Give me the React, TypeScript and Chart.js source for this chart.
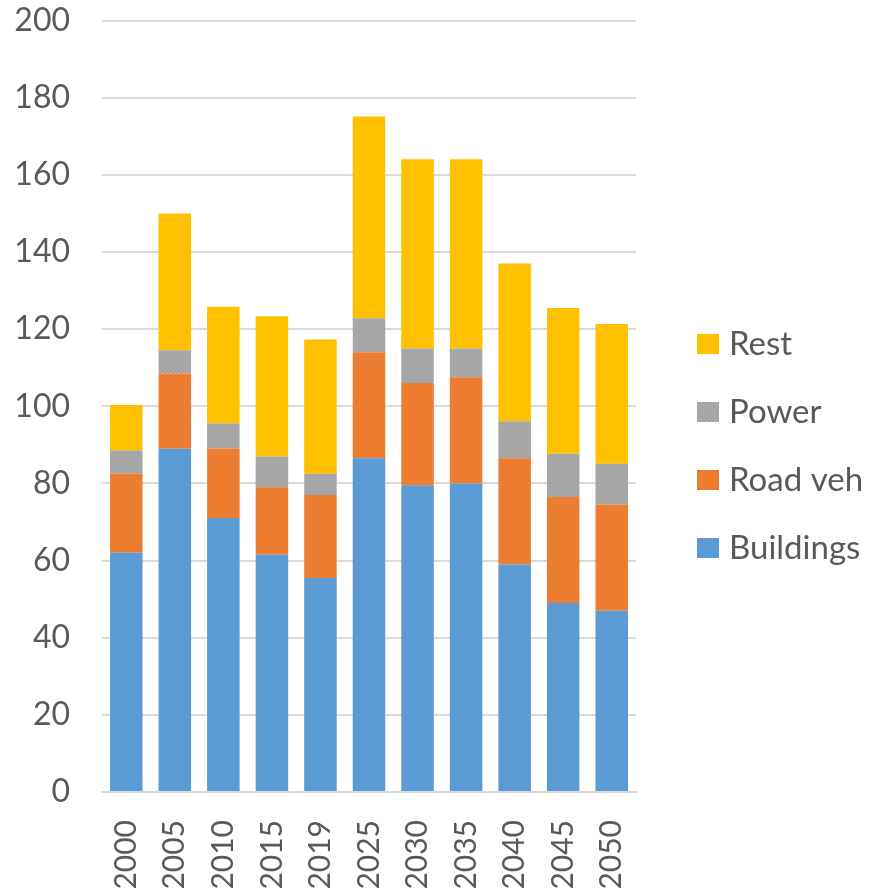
import React, { useEffect, useRef } from "react";
import { Chart, registerables } from "chart.js";

Chart.register(...registerables);

const categories = ["2000", "2005", "2010", "2015", "2019", "2025", "2030", "2035", "2040", "2045", "2050"];
const buildings = [62, 89, 71, 61.5, 55.5, 86.5, 79.5, 80, 59, 49, 47];
const roadVeh = [20.5, 19.5, 18, 17.5, 21.5, 27.5, 26.5, 27.5, 27.5, 27.5, 27.5];
const power = [6, 6, 6.5, 8, 5.5, 8.8, 9, 7.5, 9.6, 11.2, 10.6];
const rest = [11.8, 35.5, 30.3, 36.3, 34.8, 52.3, 49, 49, 40.9, 37.8, 36.2];
const seriesNames = ["Buildings", "Road veh", "Power", "Rest"];
const yTicks = { min: 0, max: 200, step: 20 };

const FONT = "Lato, 'Open Sans', sans-serif";
const TEXT = "#595959";

function makePowerPattern(): CanvasPattern | string {
  const c = document.createElement("canvas");
  c.width = 4;
  c.height = 4;
  const g = c.getContext("2d");
  if (!g) return "#a5a5a5";
  g.fillStyle = "#a7a7a7";
  g.fillRect(0, 0, 4, 4);
  g.fillStyle = "#979797";
  g.fillRect(0, 0, 1, 1);
  g.fillRect(2, 2, 1, 1);
  g.fillStyle = "#b3b3b3";
  g.fillRect(2, 0, 1, 1);
  g.fillRect(0, 2, 1, 1);
  const p = g.createPattern(c, "repeat");
  return p || "#a5a5a5";
}

export default function App() {
  const ref = useRef<HTMLCanvasElement>(null);
  useEffect(() => {
    document.body.style.margin = "0";
    const canvas = ref.current;
    if (!canvas) return;
    const powerFill = makePowerPattern();
    const colors = ["#5b9bd5", "#ed7d31", powerFill, "#ffc000"];
    const values = [buildings, roadVeh, power, rest];

    const legendPlugin = {
      id: "sideLegend",
      afterDraw(chart: any) {
        const ctx = chart.ctx as CanvasRenderingContext2D;
        const area = chart.chartArea;
        const x0 = area.right + 61;
        const spacing = 68;
        const cy = chart.height / 2 - 1.5;
        ctx.save();
        ctx.font = `33px ${FONT}`;
        ctx.textBaseline = "middle";
        ctx.textAlign = "left";
        for (let i = 0; i < 4; i++) {
          const idx = 3 - i;
          const y = cy + (i - 1.5) * spacing;
          ctx.fillStyle = colors[idx] as any;
          ctx.fillRect(x0, y - 9, 22, 20);
          ctx.fillStyle = TEXT;
          ctx.fillText(seriesNames[idx], x0 + 32, y + 1);
        }
        ctx.restore();
      },
    };

    const chart = new Chart(canvas, {
      type: "bar",
      data: {
        labels: categories,
        datasets: values.map((v, i) => ({
          label: seriesNames[i],
          data: v,
          backgroundColor: colors[i] as any,
          borderWidth: 0,
          barPercentage: 0.67,
          categoryPercentage: 1,
        })),
      },
      options: {
        animation: false,
        responsive: false,
        maintainAspectRatio: false,
        layout: { padding: { left: 14, right: 235, top: 0, bottom: 0 } },
        plugins: {
          legend: { display: false },
          tooltip: { enabled: false },
        },
        scales: {
          x: {
            stacked: true,
            grid: { display: false },
            border: { display: true, color: "#d9d9d9", width: 2 },
            ticks: {
              color: TEXT,
              font: { family: FONT, size: 30 },
              minRotation: 90,
              maxRotation: 90,
              padding: 20,
            },
            afterFit(scale: any) {
              scale.height = 101;
            },
          },
          y: {
            stacked: true,
            min: yTicks.min,
            max: yTicks.max,
            border: { display: false },
            grid: { color: "#d9d9d9", lineWidth: 2, drawTicks: false },
            ticks: {
              stepSize: yTicks.step,
              color: TEXT,
              font: { family: FONT, size: 32 },
              padding: 32,
            },
            afterFit(scale: any) {
              scale.width = 88;
              scale.paddingTop = 20.5;
              scale.paddingBottom = 0;
            },
          },
        },
      },
      plugins: [legendPlugin],
    });
    return () => chart.destroy();
  }, []);
  return (
    <div style={{ position: "relative", width: 871, height: 893, background: "#fff" }}>
      <canvas ref={ref} width={871} height={893} style={{ display: "block" }} />
    </div>
  );
}
